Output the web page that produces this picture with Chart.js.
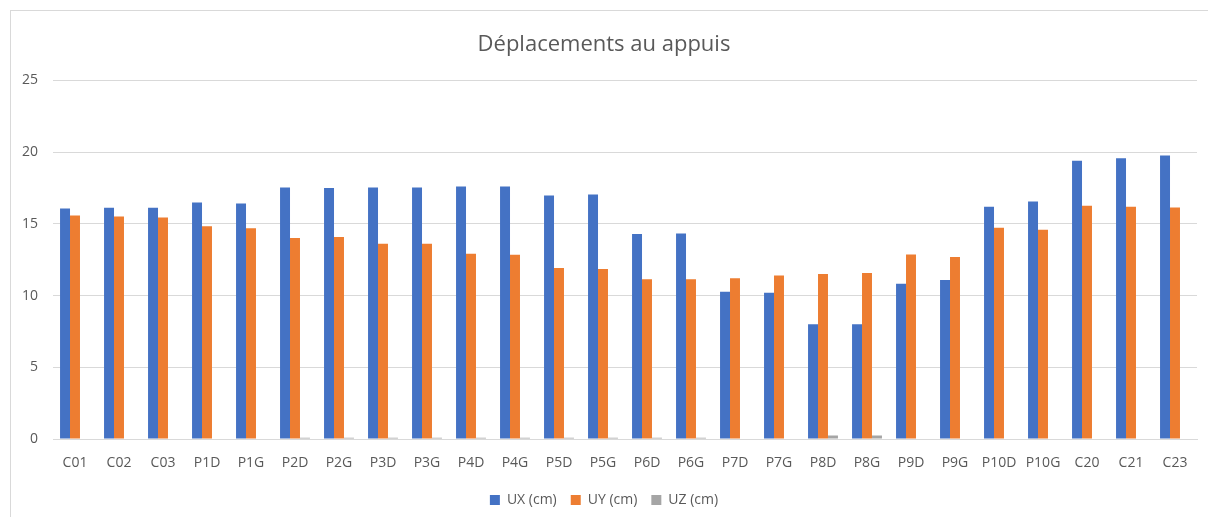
<!DOCTYPE html>
<html>
<head>
<meta charset="utf-8">
<script src="https://cdn.jsdelivr.net/npm/chart.js@4.4.0/dist/chart.umd.min.js"></script>
<style>
  html, body { margin: 0; padding: 0; background: #fff; overflow: hidden; }
  .frame {
    position: absolute;
    left: 10px;
    top: 10px;
    width: 1206px;
    height: 510px;
    border: 1px solid #d9d9d9;
  }
  .frame canvas { display: block; }
</style>
</head>
<body>
<div class="frame">
  <canvas id="chart" width="1206" height="510"></canvas>
</div>
<script>
// supports along the deck
const appuis = ['C01', 'C02', 'C03', 'P1D', 'P1G', 'P2D', 'P2G', 'P3D', 'P3G', 'P4D', 'P4G', 'P5D', 'P5G',
    'P6D', 'P6G', 'P7D', 'P7G', 'P8D', 'P8G', 'P9D', 'P9G', 'P10D', 'P10G', 'C20', 'C21', 'C23'];

// displacements in cm
const ux = [16.07, 16.12, 16.12, 16.49, 16.42, 17.54, 17.49, 17.54, 17.54, 17.61, 17.61, 16.98, 17.05,
    14.29, 14.33, 10.27, 10.20, 8.00, 8.00, 10.83, 11.09, 16.19, 16.56, 19.39, 19.58, 19.76];
const uy = [15.59, 15.52, 15.45, 14.84, 14.70, 14.01, 14.08, 13.61, 13.61, 12.92, 12.85, 11.92, 11.85,
    11.13, 11.13, 11.20, 11.39, 11.50, 11.57, 12.87, 12.69, 14.73, 14.59, 16.26, 16.19, 16.14];
const uz = [0, 0, 0, 0, 0, 0.08, 0.08, 0.08, 0.08, 0.08, 0.08, 0.08, 0.08,
    0.08, 0.08, 0, 0, 0.25, 0.25, 0, 0, 0, 0, 0, 0, 0];

const yTicks = [0, 5, 10, 15, 20, 25];

const textColor = '#595959';
const gridColor = '#d9d9d9';
const font = "'Open Sans', 'Noto Sans', sans-serif";

const ctx = document.querySelector('#chart').getContext('2d');

new Chart(ctx, {
    type: 'bar',
    data: {
        labels: appuis,
        datasets: [
            { label: 'UX (cm)', data: ux, backgroundColor: '#4472C4' },
            { label: 'UY (cm)', data: uy, backgroundColor: '#ED7D31' },
            { label: 'UZ (cm)', data: uz, backgroundColor: '#A5A5A5' }
        ]
    },
    options: {
        responsive: false,
        animation: false,
        layout: { padding: { left: 0, right: 20, top: 0, bottom: 4 } },
        datasets: {
            bar: { categoryPercentage: 0.68, barPercentage: 1.0 }
        },
        plugins: {
            title: {
                display: true,
                text: 'Déplacements au appuis',
                color: textColor,
                font: { family: font, size: 22, weight: 'normal' },
                padding: { top: 21, bottom: 22 }
            },
            legend: {
                position: 'bottom',
                labels: {
                    color: textColor,
                    font: { family: font, size: 14 },
                    boxWidth: 10,
                    boxHeight: 10,
                    padding: 14
                }
            },
            tooltip: { enabled: false }
        },
        scales: {
            x: {
                grid: { display: false },
                border: { display: true, color: gridColor },
                ticks: { color: textColor, font: { family: font, size: 14 }, padding: 8, maxRotation: 0, autoSkip: false },
                afterFit: (scale) => { scale.height = 40; }
            },
            y: {
                min: 0,
                max: 25,
                afterBuildTicks: (scale) => { scale.ticks = yTicks.map(v => ({ value: v })); },
                grid: { color: gridColor, drawTicks: false },
                border: { display: false },
                ticks: { color: textColor, font: { family: font, size: 14 }, padding: 15 },
                afterFit: (scale) => { scale.width = 42; }
            }
        }
    }
});
</script>
</body>
</html>
